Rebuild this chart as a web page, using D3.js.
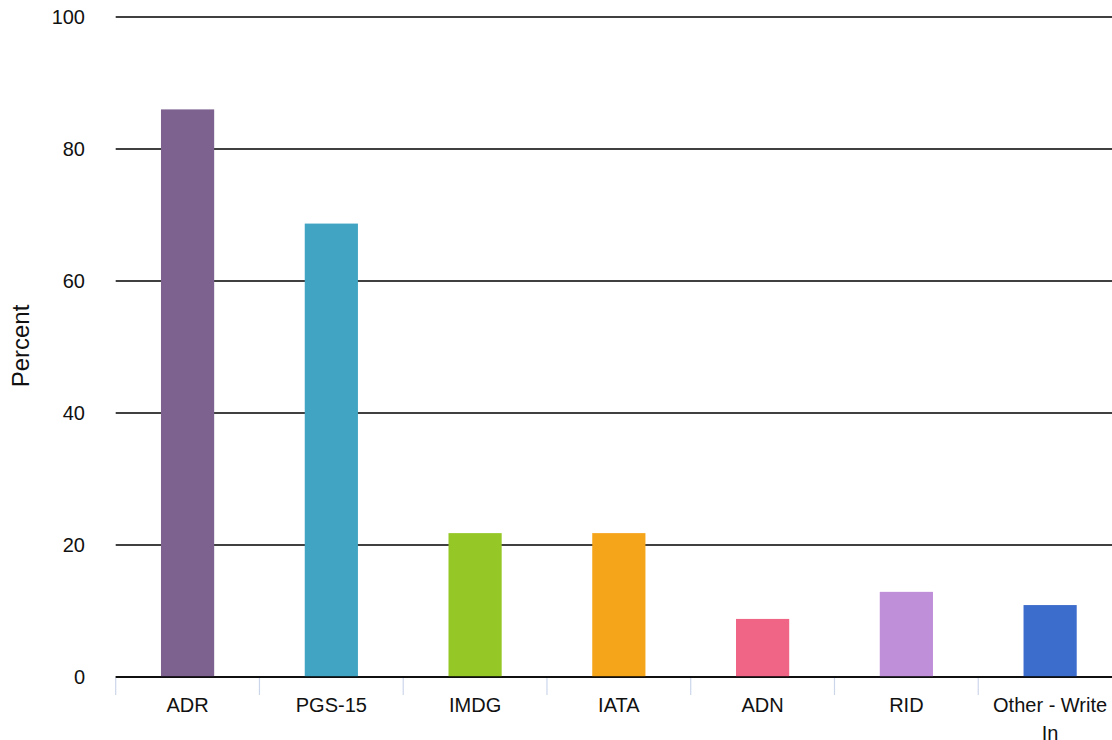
<!DOCTYPE html>
<html><head><meta charset="utf-8">
<script src="https://cdn.jsdelivr.net/npm/d3@7"></script>
<style>body{margin:0;background:#fff}svg{display:block;font-family:"Liberation Sans",Arial,sans-serif}</style>
</head><body><svg id="c" width="1112" height="740"></svg>
<script>
const categories = ["ADR","PGS-15","IMDG","IATA","ADN","RID","Other - Write In"];
const values = [86, 68.7, 21.8, 21.8, 8.8, 12.9, 10.9];
const colors = ["#7d628f","#41a4c3","#95c826","#f5a519","#f06486","#bf8fda","#3d6dcc"];
const yTicks = [0,20,40,60,80,100];
const yTitle = "Percent";

(function(){
const svg = d3.select("#c");
const mLeft = 115.7, mRight = 1122, mTop = 17, mBottom = 677;
const x = d3.scaleBand().domain(categories).range([mLeft, mRight]).padding(0);
const y = d3.scaleLinear().domain([0,100]).range([mBottom, mTop]);
const bw = x.bandwidth()*0.37;

svg.append("g").selectAll("line").data(yTicks).join("line")
  .attr("x1", mLeft).attr("x2", 1112)
  .attr("y1", d=>y(d)).attr("y2", d=>y(d))
  .attr("stroke", "#000").attr("stroke-width", 1.5);

svg.append("g").selectAll("text").data(yTicks).join("text")
  .attr("x", 85).attr("y", d=>y(d)).attr("dy","0.35em")
  .attr("text-anchor","end").attr("font-size",20).attr("fill","#111")
  .text(d=>d);

svg.append("g").selectAll("rect").data(categories).join("rect")
  .attr("x", (d)=>x(d)+x.bandwidth()/2-bw/2)
  .attr("width", bw)
  .attr("y", (d,i)=>y(values[i]))
  .attr("height", (d,i)=>y(0)-y(values[i]))
  .attr("fill", (d,i)=>colors[i]);

svg.append("line").attr("x1",mLeft).attr("x2",1112).attr("y1",y(0)).attr("y2",y(0))
  .attr("stroke","#000").attr("stroke-width",1.5);

svg.append("g").selectAll("line").data(categories).join("line")
  .attr("x1", d=>x(d)).attr("x2", d=>x(d))
  .attr("y1", y(0)+1).attr("y2", y(0)+18)
  .attr("stroke","#ccd6eb").attr("stroke-width",1.2);

const lab = svg.append("g").selectAll("text").data(categories).join("text")
  .attr("x", d=>x(d)+x.bandwidth()/2)
  .attr("y", 712)
  .attr("text-anchor","middle").attr("font-size",20).attr("fill","#111");
lab.each(function(d){
  const t = d3.select(this);
  const maxW = x.bandwidth()-10;
  const words = d.split(" ");
  let lines=[], cur="";
  const tmp = svg.append("text").attr("font-size",20);
  words.forEach(w=>{
    const test = cur?cur+" "+w:w;
    tmp.text(test);
    if (tmp.node().getComputedTextLength()>maxW && cur){lines.push(cur);cur=w;} else cur=test;
  });
  lines.push(cur); tmp.remove();
  lines.forEach((l,i)=>t.append("tspan").attr("x", x(d)+x.bandwidth()/2).attr("dy", i?28:0).text(l));
});

svg.append("text").attr("transform","translate(29,346) rotate(-90)")
  .attr("text-anchor","middle").attr("font-size",24).attr("fill","#111").text(yTitle);
})();
</script></body></html>
